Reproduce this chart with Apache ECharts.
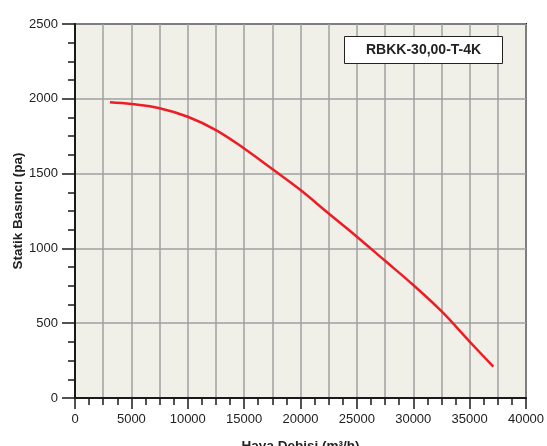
<!DOCTYPE html>
<html><head><meta charset="utf-8">
<script src="https://cdn.jsdelivr.net/npm/echarts@6/dist/echarts.min.js"></script>
<style>html,body{margin:0;padding:0;background:#fff}#c{width:547px;height:446px}</style>
</head><body><div id="c"></div>
<script>
var flow = [3100, 5000, 7500, 10000, 12500, 15000, 17500, 20000, 22500, 25000, 27500, 30000, 32500, 35000, 37100];
var pressure = [1977, 1965, 1937, 1880, 1791, 1668, 1530, 1390, 1233, 1078, 917, 755, 580, 377, 210];
var modelName = 'RBKK-30,00-T-4K';
var xName = 'Haya Debisi (m³/h)';
var yName = 'Statik Basıncı (pa)';

var data = flow.map(function(v, i){ return [v, pressure[i]]; });
var font = 'Liberation Sans, Arial, sans-serif';
var plain = function(v){ return String(v); };
var chart = echarts.init(document.getElementById('c'));
chart.setOption({
  animation: false,
  backgroundColor: '#fff',
  title: {
    text: modelName, left: 344, top: 36,
    padding: [7, 22], borderColor: '#222', borderWidth: 1, backgroundColor: '#fff',
    textStyle: {fontFamily: font, fontWeight: 'bold', fontSize: 14, color: '#222'}
  },
  grid: {left: 75, right: 21, top: 24, bottom: 48, containLabel: false, outerBoundsMode: 'none',
    show: true, backgroundColor: '#f0f0e8', borderColor: '#1a1a1a', borderWidth: 2},
  xAxis: [{
    type: 'value', min: 0, max: 40000, interval: 2500, position: 'bottom',
    axisLine: {show: false}, axisTick: {show: false}, axisLabel: {show: false},
    splitLine: {show: true, lineStyle: {color: '#a0a0a0', width: 1.5}}
  }, {
    type: 'value', min: 0, max: 40000, interval: 5000, position: 'bottom',
    name: xName, nameLocation: 'middle', nameGap: 41,
    nameTextStyle: {fontFamily: font, fontWeight: 'bold', fontSize: 13.5, color: '#222'},
    axisLine: {show: true, onZero: false, lineStyle: {color: '#1a1a1a', width: 2}},
    axisTick: {show: true, length: 11, lineStyle: {color: '#1a1a1a', width: 1.5}},
    minorTick: {show: true, splitNumber: 4, length: 7, lineStyle: {color: '#1a1a1a', width: 1.5}},
    axisLabel: {margin: 15, fontFamily: font, fontSize: 13, color: '#222', formatter: plain},
    splitLine: {show: false}
  }],
  yAxis: {
    type: 'value', min: 0, max: 2500, interval: 500,
    name: yName, nameLocation: 'middle', nameGap: 50, nameMoveOverlap: false,
    nameTextStyle: {fontFamily: font, fontWeight: 'bold', fontSize: 13.5, color: '#222'},
    axisLine: {show: true, lineStyle: {color: '#1a1a1a', width: 2}},
    axisTick: {show: true, length: 13, lineStyle: {color: '#1a1a1a', width: 1.5}},
    minorTick: {show: true, splitNumber: 4, length: 7, lineStyle: {color: '#1a1a1a', width: 1.5}},
    axisLabel: {margin: 17, fontFamily: font, fontSize: 13, color: '#222', formatter: plain},
    splitLine: {show: true, lineStyle: {color: '#a0a0a0', width: 1.5}}
  },
  series: [{
    type: 'line', xAxisIndex: 1, data: data, smooth: 0.4, showSymbol: false,
    lineStyle: {color: '#ee1c25', width: 2.5}
  }]
});
</script></body></html>
